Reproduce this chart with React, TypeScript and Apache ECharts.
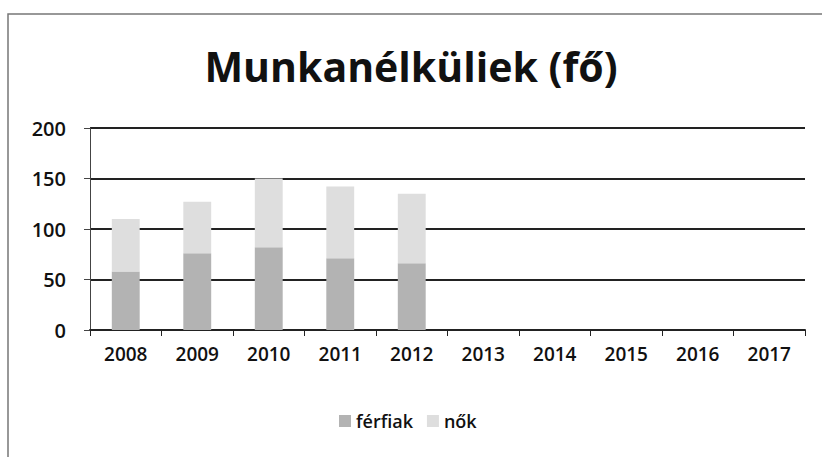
import React, { useEffect, useRef } from "react";
import * as echarts from "echarts";

const years = ["2008", "2009", "2010", "2011", "2012", "2013", "2014", "2015", "2016", "2017"];
const ferfiak = [58, 76, 82, 71, 66, null, null, null, null, null];
const nok = [52, 51, 68, 71, 69, null, null, null, null, null];
const yTicks = [0, 50, 100, 150, 200];

export default function App() {
  const ref = useRef<HTMLDivElement>(null);
  useEffect(() => {
    document.body.style.margin = "0";
    const chart = echarts.init(ref.current!, undefined, { renderer: "svg" });
    const font = "'Open Sans', 'DejaVu Sans', sans-serif";
    chart.setOption({
      animation: false,
      backgroundColor: "#ffffff",
      textStyle: { fontFamily: font },
      title: {
        text: "Munkanélküliek (fő)",
        left: "center",
        top: 40,
        textStyle: { fontSize: 41, fontWeight: "bold", color: "#111", fontFamily: font },
      },
      legend: {
        bottom: 22,
        left: 334,
        itemWidth: 12,
        itemHeight: 12,
        itemGap: 14,
        icon: "rect",
        textStyle: { fontSize: 18, fontWeight: 600, color: "#111", fontFamily: font },
        data: ["férfiak", "nők"],
      },
      grid: { left: 90, right: 17, top: 128, bottom: 127, containLabel: false },
      xAxis: {
        type: "category",
        data: years,
        axisLine: { lineStyle: { color: "#222", width: 2 } },
        axisTick: { show: true, length: 6, lineStyle: { color: "#222" } },
        axisLabel: { fontSize: 19, fontWeight: 600, color: "#111", margin: 14, fontFamily: font },
      },
      yAxis: {
        type: "value",
        min: 0,
        max: 200,
        interval: 50,
        axisLine: { show: true, lineStyle: { color: "#444" } },
        axisTick: { show: true, length: 6, lineStyle: { color: "#444" } },
        axisLabel: {
          fontSize: 20,
          fontWeight: 600,
          color: "#111",
          margin: 24,
          fontFamily: font,
          formatter: (v: number) => (yTicks.includes(v) ? String(v) : ""),
        },
        splitLine: { lineStyle: { color: "#222", width: 2 } },
      },
      series: [
        {
          name: "férfiak",
          type: "bar",
          stack: "total",
          barWidth: "39%",
          data: ferfiak,
          itemStyle: { color: "#b3b3b3" },
        },
        {
          name: "nők",
          type: "bar",
          stack: "total",
          barWidth: "39%",
          data: nok,
          itemStyle: { color: "#dedede" },
        },
      ],
      graphic: [
        {
          type: "rect",
          shape: { x: 8, y: 14, width: 830, height: 460 },
          style: { fill: "none", stroke: "#777", lineWidth: 1.5 },
          silent: true,
        },
      ],
    });
    return () => chart.dispose();
  }, []);
  return <div ref={ref} style={{ width: 822, height: 457 }} />;
}
